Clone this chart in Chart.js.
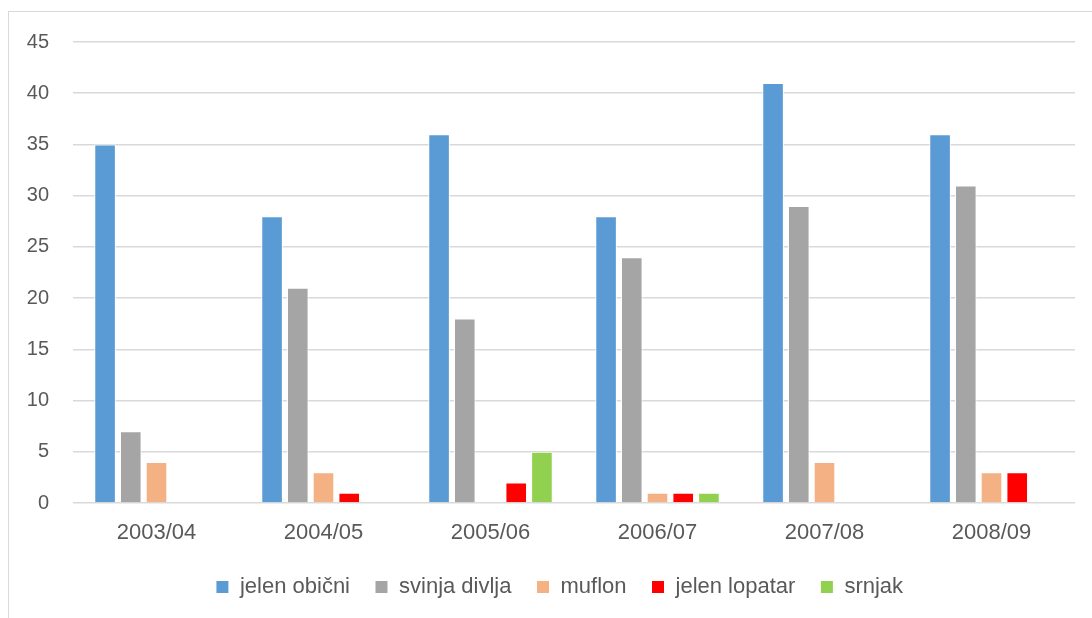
<!DOCTYPE html>
<html>
<head>
<meta charset="utf-8">
<script src="https://cdn.jsdelivr.net/npm/chart.js@4.4.1/dist/chart.umd.min.js"></script>
<style>
  html, body { margin: 0; padding: 0; background: #fff; overflow: hidden; }
  #wrap { position: absolute; left: 0; top: 0; width: 1092px; height: 618px; }
  #frame { position: absolute; left: 8px; top: 11px; width: 1200px; height: 700px; border: 1px solid #D9D9D9; box-sizing: border-box; }
  canvas { position: absolute; left: 0; top: 0; }
</style>
</head>
<body>
<div id="wrap">
  <div id="frame"></div>
  <canvas id="c" width="1092" height="618"></canvas>
</div>
<script>
const categories = ["2003/04", "2004/05", "2005/06", "2006/07", "2007/08", "2008/09"];
const seriesNames = ["jelen obični", "svinja divlja", "muflon", "jelen lopatar", "srnjak"];
const jelenObicni = [35, 28, 36, 28, 41, 36];
const svinjaDivlja = [7, 21, 18, 24, 29, 31];
const muflon = [4, 3, 0, 1, 4, 3];
const jelenLopatar = [0, 1, 2, 1, 0, 3];
const srnjak = [0, 0, 5, 1, 0, 0];
const yTicks = [0, 5, 10, 15, 20, 25, 30, 35, 40, 45];

const colors = ["#5B9BD5", "#A5A5A5", "#F4B183", "#FF0000", "#92D050"];
const values = [jelenObicni, svinjaDivlja, muflon, jelenLopatar, srnjak];

const FONT = "'Liberation Sans', Arial, sans-serif";
const TXT = "#595959";

const shiftLegend = {
  id: "shiftLegend",
  afterLayout(chart) {
    const lg = chart.legend;
    if (lg) { lg.left += 22; lg.right += 22; }
  }
};

new Chart(document.getElementById("c"), {
  type: "bar",
  data: {
    labels: categories,
    datasets: seriesNames.map((n, i) => ({
      label: n,
      data: values[i],
      backgroundColor: colors[i],
      borderColor: "#FFFFFF",
      borderWidth: 1,
      categoryPercentage: 0.77,
      barPercentage: 0.84
    }))
  },
  plugins: [shiftLegend],
  options: {
    responsive: false,
    animation: false,
    devicePixelRatio: 1,
    layout: { padding: { top: 42, right: 17, left: 0, bottom: 10 } },
    plugins: {
      tooltip: { enabled: false },
      legend: {
        position: "bottom",
        labels: {
          font: { family: FONT, size: 22 },
          color: TXT,
          boxWidth: 13,
          boxHeight: 13,
          padding: 25
        }
      }
    },
    scales: {
      x: {
        grid: { display: false },
        border: { display: false },
        ticks: { font: { family: FONT, size: 22 }, color: TXT, padding: 9 },
        afterFit: (s) => { s.height = 48; }
      },
      y: {
        min: 0,
        max: 45,
        afterBuildTicks: (s) => { s.ticks = yTicks.map(v => ({ value: v })); },
        grid: { color: "#D9D9D9", lineWidth: 1.5, drawTicks: false },
        border: { display: false },
        ticks: { font: { family: FONT, size: 20 }, color: TXT, padding: 24 },
        afterFit: (s) => { s.width = 73; }
      }
    }
  }
});
</script>
</body>
</html>
